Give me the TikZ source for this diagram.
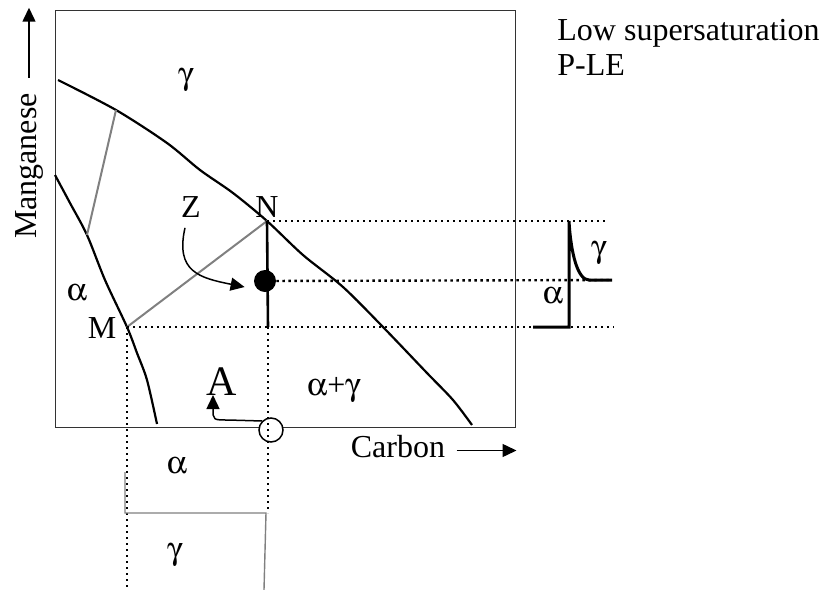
\documentclass[tikz,border=0pt]{standalone}
\usepackage{fontspec}
\usepackage[Symbol]{upgreek}
\setmainfont{Liberation Serif}
\usetikzlibrary{arrows.meta}

\begin{document}
\begin{tikzpicture}[x=0.5pt, y=-0.5pt, >={Triangle[length=7pt,width=6.5pt]},
    lbl/.style={inner sep=0pt, font=\fontsize{16}{19}\selectfont},
    curve/.style={line width=1.1pt, line join=round},
    tie/.style={black!50, line width=1pt},
    dots/.style={line width=1.2pt, dash pattern=on 1.2pt off 1.8pt},
    prof/.style={line width=1.5pt}]

    \useasboundingbox (0,0) rectangle (821,590);

    % diagram frame
    \draw[black!80, line width=0.5pt] (55,10) rectangle (515,427);
    \node[circle, draw, fill=white, line width=0.75pt, inner sep=0pt, minimum size=12pt] (ring) at (271,430) {};

    \coordinate (M) at (127,327);
    \coordinate (N) at (267,221);
    \coordinate (base) at (268,327);
    \coordinate (P) at (116,110);
    \coordinate (Q) at (87,235);

    % phase boundaries
    \draw[curve] plot[smooth, tension=0.5] coordinates {(58,80) (P) (167,143) (200,170) (233,193) (N) (303,255) (343,287) (383,327) (427,373) (453,400) (472,425)};
    \draw[curve] plot[smooth, tension=0.5] coordinates {(55,175) (70,203) (Q) (105,280) (M) (137,353) (147,380) (157,424)};

    % tie lines
    \draw[tie] (Q) -- (P);
    \draw[tie] (M) -- (N);

    \draw[line width=1.3pt] (N) -- (base);
    \node[circle, fill, inner sep=0pt, minimum size=11pt] (dot) at (265,281) {};

    % profile on the right
    \coordinate (pt) at (569,221);
    \coordinate (pb) at (569,327);
    \coordinate (pl) at (533,327);
    \coordinate (pc) at (589,280);
    \coordinate (pr) at (612,280);

    \draw[dots] (N) -- (608,221);
    \draw[dots] (dot) -- (pr);
    \draw[dots] (M) -- (614,327);
    \draw[dots] (M) -- (M |- 0,590);
    \draw[dots] (base) -- (base |- 0,513);

    \draw[prof] (pl) -- (pb) -- (pt) .. controls (571,255) and (578,280) .. (pc) -- (pr);

    % profile below
    \draw[black!50, line width=0.7pt] (125,472) -- (125,513) -- (266,513) -- (264,590);

    % labels
    \node[lbl] (gtop) at (186,80) {$\upgamma$};
    \node[lbl] (aleft) at (77,293) {$\upalpha$};
    \node[lbl] (Mlbl) at (102,328) {M};
    \node[lbl] (Nlbl) at (267,207) {N};
    \node[lbl] (Zlbl) at (191,207) {Z};
    \node[lbl] (agam) at (334,390) {$\upalpha$+$\upgamma$};
    \node[lbl, font=\fontsize{21}{24}\selectfont] (Albl) at (222,382) {A};
    \node[lbl] (abot) at (177,466) {$\upalpha$};
    \node[lbl] (gbot) at (175,555) {$\upgamma$};
    \node[lbl] (apr) at (553,296) {$\upalpha$};
    \node[lbl] (gpr) at (599,253) {$\upgamma$};
    \node[lbl, anchor=base west] (title) at (557,40) {Low supersaturation};
    \node[lbl, anchor=base west] (sub) at (557,75) {P-LE};

    % axes
    \node[lbl, rotate=90] (mn) at (29,166) {Manganese};
    \node[lbl] (cb) at (398,447) {Carbon};
    \draw[->, line width=0.75pt] ([yshift=7.5pt]mn.east) -- ++(0,-70);
    \draw[->, line width=0.75pt] ([xshift=5.5pt,yshift=-1.75pt]cb.east) -- ++(60,0);

    % arrows to points
    \coordinate (atip) at (213,395);
    \draw[->, line width=0.75pt] ([xshift=-3pt,yshift=-5pt]Zlbl.south) .. controls (175,272) and (200,278) .. ([xshift=-4.5pt,yshift=-3pt]dot.west);
    \draw[->, line width=0.75pt] (ring.north west) -- (228,420) .. controls (213,420) .. (atip);
\end{tikzpicture}
\end{document}
